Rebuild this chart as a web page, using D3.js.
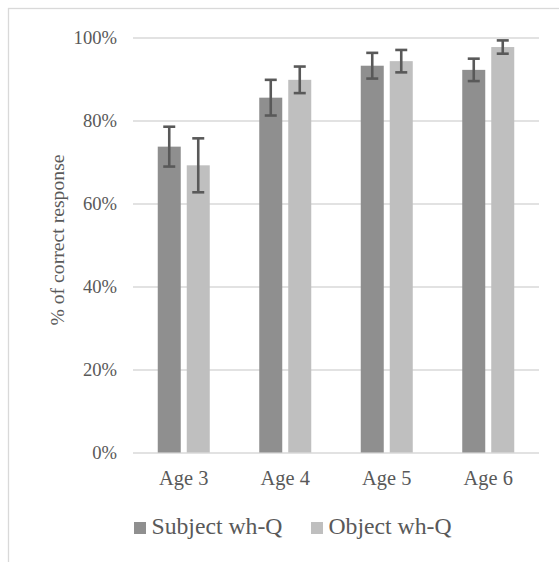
<!DOCTYPE html>
<html>
<head>
<meta charset="utf-8">
<script src="https://cdn.jsdelivr.net/npm/d3@7/dist/d3.min.js"></script>
<style>
  html, body { margin: 0; padding: 0; background: #fff; }
  svg { display: block; }
  text { font-family: "Liberation Serif", "Times New Roman", serif; fill: #595959; }
</style>
</head>
<body>
<svg id="chart" width="559" height="562"></svg>
<script>
const categories = ["Age 3", "Age 4", "Age 5", "Age 6"];
const seriesNames = ["Subject wh-Q", "Object wh-Q"];
const subjectValues = [73.7, 85.5, 93.2, 92.2];
const objectValues  = [69.2, 89.8, 94.3, 97.7];
const subjectErrors = [4.8, 4.3, 3.1, 2.7];
const objectErrors  = [6.5, 3.2, 2.7, 1.6];
const yTicks = [0, 20, 40, 60, 80, 100];
const seriesColors = ["#8f8f8f", "#bfbfbf"];

const svg = d3.select("#chart");

// outer chart border
svg.append("rect")
  .attr("x", 8.5).attr("y", 8.5)
  .attr("width", 700).attr("height", 700)
  .attr("fill", "none").attr("stroke", "#d9d9d9").attr("stroke-width", 1.3);

const plot = { left: 133, right: 539, top: 37.5, bottom: 452.5 };

const y = d3.scaleLinear().domain([0, 100]).range([plot.bottom, plot.top]);
const x0 = d3.scaleBand().domain(categories).range([plot.left, plot.right]).padding(0);
const half = 26;
const x1 = d3.scaleBand().domain(seriesNames)
  .range([x0.bandwidth() / 2 - half, x0.bandwidth() / 2 + half])
  .paddingInner(0.207).paddingOuter(0);

// gridlines
const yAxis = d3.axisLeft(y).tickValues(yTicks).tickFormat(d => d + "%")
  .tickSize(-(plot.right - plot.left)).tickPadding(16);
const gAxis = svg.append("g").attr("transform", `translate(${plot.left},0)`).call(yAxis)
  .attr("font-family", "Liberation Serif, serif")
  .attr("font-size", "18.6px");
gAxis.select(".domain").remove();
gAxis.selectAll(".tick line").attr("stroke", "#d9d9d9").attr("stroke-width", 1.3);
gAxis.selectAll(".tick text")
  .attr("fill", "#595959")
  .attr("font-family", "Liberation Serif, serif")
  .attr("dy", "0.34em");

// data rows
const rows = categories.map((c, i) => ({
  cat: c,
  vals: [
    { s: seriesNames[0], v: subjectValues[i], e: subjectErrors[i], color: seriesColors[0] },
    { s: seriesNames[1], v: objectValues[i], e: objectErrors[i], color: seriesColors[1] }
  ]
}));

const groups = svg.append("g").selectAll("g.grp").data(rows).join("g")
  .attr("class", "grp")
  .attr("transform", d => `translate(${x0(d.cat)},0)`);

groups.selectAll("rect").data(d => d.vals).join("rect")
  .attr("x", d => x1(d.s))
  .attr("width", x1.bandwidth())
  .attr("y", d => y(d.v))
  .attr("height", d => y(0) - y(d.v))
  .attr("fill", d => d.color);

// error bars
const capHalf = 6;
const err = groups.selectAll("g.err").data(d => d.vals).join("g").attr("class", "err");
err.append("line")
  .attr("x1", d => x1(d.s) + x1.bandwidth() / 2)
  .attr("x2", d => x1(d.s) + x1.bandwidth() / 2)
  .attr("y1", d => y(d.v + d.e))
  .attr("y2", d => y(d.v - d.e));
err.append("line")
  .attr("x1", d => x1(d.s) + x1.bandwidth() / 2 - capHalf)
  .attr("x2", d => x1(d.s) + x1.bandwidth() / 2 + capHalf)
  .attr("y1", d => y(d.v + d.e))
  .attr("y2", d => y(d.v + d.e));
err.append("line")
  .attr("x1", d => x1(d.s) + x1.bandwidth() / 2 - capHalf)
  .attr("x2", d => x1(d.s) + x1.bandwidth() / 2 + capHalf)
  .attr("y1", d => y(d.v - d.e))
  .attr("y2", d => y(d.v - d.e));
err.selectAll("line").attr("stroke", "#595959").attr("stroke-width", 2.6);

// category labels
svg.append("g").selectAll("text").data(categories).join("text")
  .attr("x", d => x0(d) + x0.bandwidth() / 2)
  .attr("y", 485)
  .attr("text-anchor", "middle")
  .attr("font-size", "20.4px")
  .text(d => d);

// y title
svg.append("text")
  .attr("transform", "translate(64,240) rotate(-90)")
  .attr("text-anchor", "middle")
  .attr("font-size", "19.7px")
  .text("% of correct response");

// legend
const legendX = [134, 311];
const lg = svg.append("g").selectAll("g").data(seriesNames).join("g")
  .attr("transform", (d, i) => `translate(${legendX[i]},522)`);
lg.append("rect").attr("width", 12).attr("height", 12)
  .attr("fill", (d, i) => seriesColors[i]);
lg.append("text").attr("x", 17.5).attr("y", 12.3)
  .attr("font-size", "23.7px")
  .text(d => d);
</script>
</body>
</html>
